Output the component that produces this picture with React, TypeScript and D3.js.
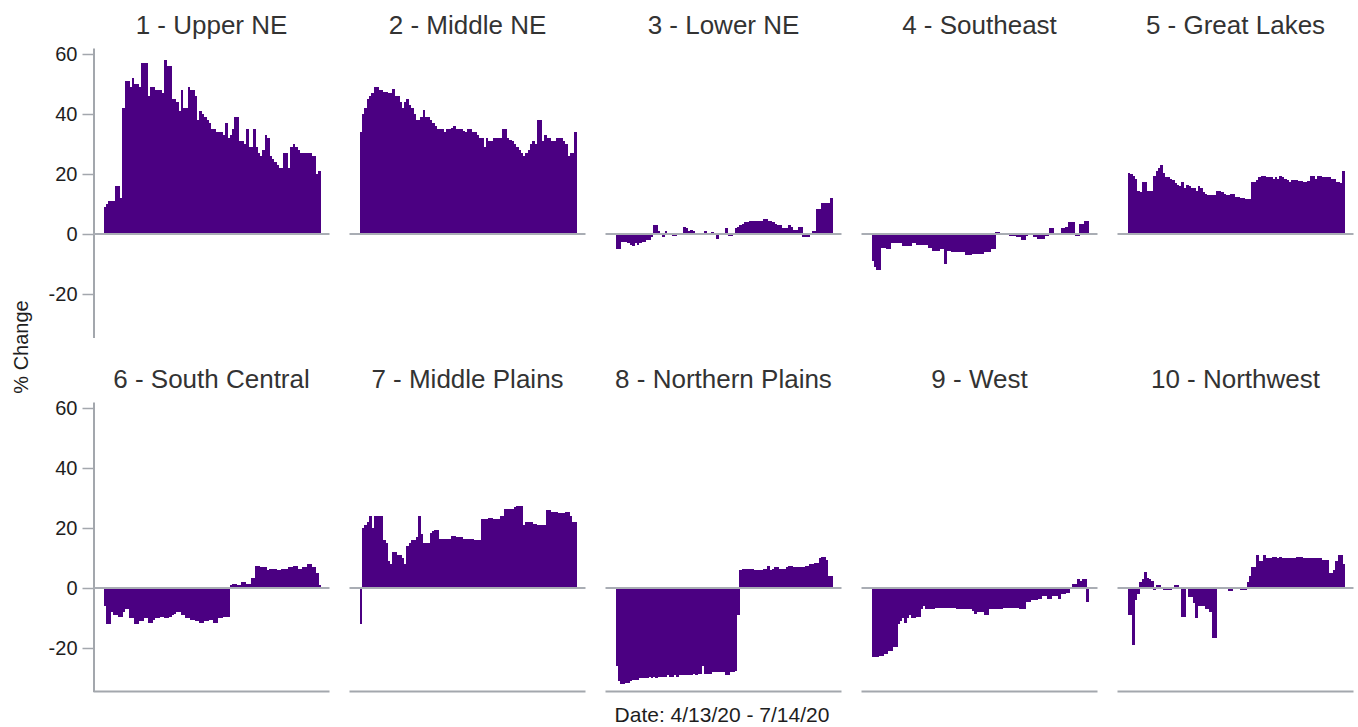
import React, { useRef, useEffect } from 'react';
import * as d3 from 'd3';

const REGIONS = [
  '1 - Upper NE', '2 - Middle NE', '3 - Lower NE', '4 - Southeast', '5 - Great Lakes',
  '6 - South Central', '7 - Middle Plains', '8 - Northern Plains', '9 - West', '10 - Northwest',
];

const Y_TICKS = [-20, 0, 20, 40, 60];

// daily % change, 4/13/20 .. 7/14/20 (93 days)
const upperNE = [9, 10, 11, 11, 11, 16, 16, 12, 42, 51, 51, 49, 52, 50, 50, 49, 57, 57, 57, 46, 49, 49, 48, 48, 48, 47, 58, 56, 56, 45, 45, 44, 41, 48, 42, 42, 49, 48, 48, 46, 38, 41, 40, 39, 38, 37, 35, 35, 34, 34, 34, 33, 37, 32, 33, 35, 39, 39, 31, 31, 30, 35, 29, 29, 35, 29, 27, 26, 28, 33, 32, 26, 25, 24, 23, 22, 22, 27, 27, 22, 29, 30, 29, 28, 27, 27, 27, 27, 27, 26, 26, 20, 21];
const middleNE = [34, 40, 42, 45, 46, 47, 49, 49, 48, 48, 47.5, 47.5, 47, 47, 48.5, 46, 46, 44, 42, 44, 45, 43, 42, 40, 38, 38, 39, 41.5, 39, 39, 38, 37, 36, 35, 35, 35, 34, 35, 35, 35.5, 36, 35, 35, 35, 34.5, 34, 35, 35, 34, 34, 33, 32, 32, 29, 32, 31, 31, 32, 32, 32, 32, 35, 35, 32, 31.5, 31, 30, 29, 28, 27, 26, 27, 28, 30, 31, 30, 38, 38, 31, 33, 32, 32, 31, 31, 32, 32, 32, 31, 30, 26, 27, 27, 34];
const lowerNE = [-5, -5, -2.5, -2.5, -2.5, -3, -3.5, -4, -3, -3.5, -3, -2.5, -2.5, -2, -2, -1, 3, 3, 1, 0.5, -1, 1, 0.5, 0.5, -0.5, -0.5, -0.3, -0.3, 0.5, 2.5, 2, 1, 1.5, 1, 0.5, 0.3, 0.3, 0.5, 1, 0.5, 0.5, 0.8, 0.5, -1.5, 0.5, 0.3, 0.5, 2, -0.5, -0.5, 0.5, 2, 2.5, 3, 3.5, 4, 4, 4.2, 4.2, 4.3, 4.5, 4.5, 4.5, 5, 5, 4.5, 4.2, 4, 3.5, 3, 3, 2, 2, 2, 3, 2.5, 1.5, 1.5, 2.5, 2.5, -1, -1, -1, 0.5, 1, 1, 8.5, 8.5, 10.5, 10.5, 10.5, 10.5, 12];
const southeast = [-9, -11, -12, -12, -4.5, -4.5, -5, -5, -3, -3, -3, -3, -3, -4, -4, -4, -4, -3, -3, -3.5, -3.5, -3.5, -3.5, -3.5, -4.5, -4.5, -5.5, -5.5, -5.5, -5, -5, -10, -5.5, -5.5, -6, -6, -6, -6, -6, -6, -7, -7, -7, -6.5, -6.5, -6.5, -6.5, -6.5, -6, -6, -6, -5, -5, 0.7, 0.7, 0.3, 0.3, 0.3, 0.3, -0.5, -0.5, -0.5, -1, -1, -2, -2, -0.5, 0.5, 0.5, -1, -1, -1.5, -1.5, -1.5, -0.5, -0.5, 2, 2, 0.3, -0.3, -0.3, 2, 2, 2.5, 4, 4, 4, -0.5, -0.5, 3.5, 3.5, 4.5, 4.5];
const greatLakes = [20.5, 20, 19.5, 18.5, 14.5, 14, 17.5, 17.5, 14.5, 14.5, 14.5, 19.5, 21, 22, 23, 20.5, 19, 19, 18.5, 18, 17, 16.5, 16, 17.5, 15.5, 16.5, 16, 15.5, 15.5, 14.5, 16, 15.5, 14, 13.5, 13, 13, 13, 13, 14.5, 14.5, 14, 13.5, 13, 13, 13.5, 13.5, 12.5, 12.5, 12, 12, 11.8, 11.8, 11.8, 17.5, 17.5, 18, 19, 19.5, 19.5, 19, 19, 19, 18.5, 19, 18.5, 19.5, 19, 18.5, 18, 17.5, 18, 18, 18, 17.8, 17.8, 17.5, 17.5, 17.8, 19.5, 19.5, 18.5, 19.5, 19.5, 19, 19, 19, 19, 18.5, 18.5, 17.5, 17.5, 17, 21];
const southCentral = [-6, -12, -12, -8, -9, -9, -9.5, -9.5, -8, -7, -7, -10, -10, -12, -12, -11, -11, -10, -10, -11.5, -11.5, -10.5, -10, -10, -9.5, -9.5, -10, -10, -9.5, -9, -8.5, -8, -8, -9, -9, -10, -10, -10.5, -10.5, -11, -11, -11.5, -11.5, -11, -11, -10.5, -10.5, -11.5, -11.5, -10, -10, -9.5, -9.5, -9.5, 1, 1.5, 1.5, 1, 1, 2, 2, 1.5, 1.5, 3.5, 3.5, 7.5, 7.5, 7, 7, 7, 6, 6.5, 6.5, 6.5, 6, 6, 6.5, 6.5, 6.5, 7, 7, 7.5, 7.5, 6.5, 6.5, 7, 7, 8, 8, 7, 7, 5, 1];
const middlePlains = [-12, 20, 21, 22, 24, 20, 24, 24, 24, 24, 16, 15, 9, 8, 12, 12, 11, 11, 10, 8, 14, 15, 16, 16, 17, 24, 18, 15, 15, 15, 18.5, 19, 19.5, 19.5, 16.5, 16.5, 16.5, 16.5, 16.5, 17.5, 17.5, 17, 17, 17, 16.5, 16.5, 16.5, 16.5, 16.5, 16, 16, 16, 23, 23, 23, 23.5, 23.5, 23, 23, 23, 24, 24, 26.5, 26.5, 26.5, 26.5, 27, 27.5, 27.5, 27.5, 21, 22, 22, 22, 21.5, 21.5, 21, 21, 21, 21, 26, 26, 25.5, 25.5, 25.5, 25, 25, 25, 25.5, 25.5, 24, 22, 22];
const northernPlains = [-26, -31, -32, -32, -31.5, -31.5, -31, -30.5, -30.5, -30.5, -30, -30, -30, -30, -29.5, -30, -29.5, -30, -29.5, -29.5, -29.5, -29.5, -29, -29.5, -29.5, -29, -29.5, -29, -29, -29, -29, -29, -29, -28.5, -29, -28.5, -28.5, -26, -28.5, -28.5, -28.5, -28, -28, -28, -28, -28, -28, -29, -29, -28, -28, -27.5, -9, 6, 6.5, 6.5, 6.5, 6.2, 6.2, 6, 6, 6, 6, 6.5, 6.5, 7.5, 6, 6.5, 7, 7, 6.5, 6.5, 6.5, 7, 7.5, 7.5, 7, 7, 7, 7, 7, 7.5, 7.5, 8, 8, 8.5, 8.5, 10, 10.5, 10.5, 9.5, 4, 4];
const west = [-23, -23, -23, -22.5, -22.5, -22, -22, -21, -21, -19.5, -19.5, -12, -11, -10, -11.5, -10, -9, -10, -10, -9.5, -9.5, -7, -6, -7, -7, -7, -7, -6.5, -6.5, -6.5, -6.5, -6.5, -6.5, -6.5, -6.5, -6.5, -7, -7, -7, -7, -7, -7, -7, -7.5, -8.5, -8, -8, -8, -9, -9, -7, -7, -7, -7, -7, -7, -6.5, -6.5, -6.5, -6.5, -6.5, -6.5, -6.5, -7, -7, -7, -4.5, -4.5, -4, -4, -4, -3.5, -3.5, -2.5, -2.5, -3.5, -3.5, -2.5, -2.5, -2.5, -3.5, -2, -2, -1.5, -1.5, 0.5, 1.5, 1.5, 3, 2.5, 3, 3, -4.5];
const northwest = [-9, -9, -19, -4, -2, 2, 3, 5.5, 3.5, 3, 2.5, -0.5, 1, 1, 0, -0.5, -0.5, -0.5, -0.5, 0, 1, 1, 0, -9.5, -9.5, 0.5, -3, -3, -5, -10, -6, -6, -6, -7, -7, -8, -16.5, -16.5, 0.5, 0.5, 0.5, 0.2, 0.2, -1, -1, 0.5, 0.5, 0.5, -0.5, -0.5, -0.5, 2, 4, 7, 7, 11, 9, 9, 11, 10, 10, 10, 10.5, 10.5, 10, 10.5, 10, 10, 10, 10, 10, 10, 10.5, 10.5, 10.5, 10, 10, 10, 10, 10, 10, 10, 10, 9.5, 9.5, 9.5, 5, 5, 6, 9, 11, 11, 8];

const SERIES = [upperNE, middleNE, lowerNE, southeast, greatLakes, southCentral, middlePlains, northernPlains, west, northwest];

const DAYS = d3.timeDay.range(new Date(2020, 3, 13), new Date(2020, 6, 15));

const FONT = '"Liberation Sans", Arial, sans-serif';

export default function App() {
  const svgRef = useRef(null);
  const width = 1358;
  const height = 727;

  useEffect(() => {
    const svg = d3.select(svgRef.current);
    svg.selectAll('*').remove();

    const panelW = 236;
    const plotH = 289.5;
    const rowTop = [48, 402];
    const colLeft = c => 93.5 + c * 256;

    SERIES.forEach((values, i) => {
      const row = Math.floor(i / 5);
      const col = i % 5;
      const left = colLeft(col);
      const top = rowTop[row];
      const g = svg.append('g');

      const x = d3.scaleBand()
        .domain(DAYS.map(d => +d))
        .range([left + 10, left + 227])
        .padding(0);

      const y = d3.scaleLinear()
        .domain([-34.5, 62])
        .range([top + plotH, top]);

      // title
      g.append('text')
        .attr('x', left + panelW / 2)
        .attr('y', top - 14)
        .attr('text-anchor', 'middle')
        .attr('font-family', FONT)
        .attr('font-size', 26)
        .attr('fill', '#333333')
        .text(REGIONS[i]);

      // y axis on first column only
      if (col === 0) {
        g.append('g')
          .attr('transform', `translate(${left},0)`)
          .attr('color', '#a3a7ad')
          .call(
            d3.axisLeft(y)
              .tickValues(Y_TICKS)
              .tickFormat(d => String(d))
              .tickSize(11)
              .tickSizeOuter(0)
              .tickPadding(5)
          )
          .call(g => g.select('.domain').attr('stroke-width', 2))
          .call(g => g.selectAll('.tick line').attr('stroke-width', 1.5))
          .call(g => g.selectAll('.tick text')
            .attr('font-size', 20)
            .attr('font-family', FONT)
            .attr('fill', '#1e1e1e'));
      }

      // bars (crisp edges so neighbouring days merge without seams)
      g.append('g')
        .attr('shape-rendering', 'crispEdges')
        .selectAll('rect')
        .data(values)
        .join('rect')
        .attr('x', (d, j) => x(+DAYS[j]))
        .attr('width', x.bandwidth() + 0.5)
        .attr('y', d => Math.min(y(d), y(0)))
        .attr('height', d => Math.max(1, Math.abs(y(d) - y(0))))
        .attr('fill', '#4b0082');

      // zero line
      g.append('line')
        .attr('x1', left)
        .attr('x2', left + panelW)
        .attr('y1', y(0))
        .attr('y2', y(0))
        .attr('stroke', '#a9adb4')
        .attr('stroke-width', 1.8);

      // bottom axis line in the lower row
      if (row === 1) {
        g.append('line')
          .attr('x1', left)
          .attr('x2', left + panelW)
          .attr('y1', top + plotH)
          .attr('y2', top + plotH)
          .attr('stroke', '#a3a7ad')
          .attr('stroke-width', 2);
      }
    });

    svg.append('text')
      .attr('transform', 'translate(28,347) rotate(-90)')
      .attr('text-anchor', 'middle')
      .attr('font-family', FONT)
      .attr('font-size', 20)
      .attr('fill', '#1e1e1e')
      .text('% Change');

    svg.append('text')
      .attr('x', 722)
      .attr('y', 722)
      .attr('text-anchor', 'middle')
      .attr('font-family', FONT)
      .attr('font-size', 21)
      .attr('fill', '#1e1e1e')
      .text('Date: 4/13/20 - 7/14/20');
  }, []);

  return (
    <svg
      ref={svgRef}
      width={width}
      height={height}
      viewBox={`0 0 ${width} ${height}`}
      style={{ position: 'absolute', left: 0, top: 0, background: '#fff' }}
    />
  );
}
